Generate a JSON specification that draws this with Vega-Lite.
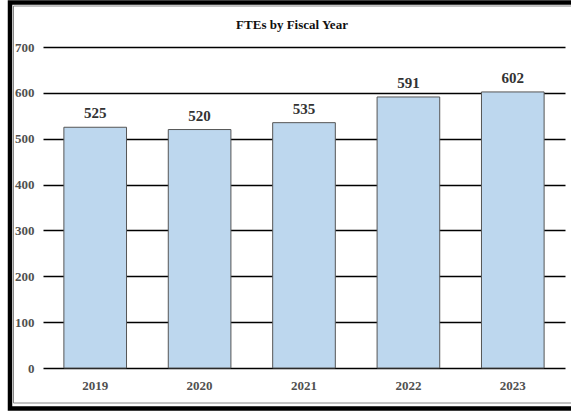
{
  "$schema": "https://vega.github.io/schema/vega-lite/v6.json",
  "width": 522,
  "height": 321,
  "autosize": {"type": "none"},
  "padding": {"left": 43, "top": 47, "right": 6, "bottom": 43},
  "background": "white",
  "title": {
    "text": "FTEs by Fiscal Year",
    "frame": "group",
    "font": "Liberation Serif",
    "fontSize": 13,
    "fontWeight": "bold",
    "color": "#111111",
    "anchor": "middle",
    "baseline": "bottom",
    "offset": 0,
    "dy": 45,
    "dx": -12
  },
  "config": {
    "view": {"stroke": null},
    "axis": {
      "labelFont": "Liberation Serif",
      "labelFontWeight": "bold",
      "labelFontSize": 13,
      "labelColor": "#505050",
      "ticks": false,
      "domain": false,
      "title": null
    }
  },
  "data": {
    "values": [
      {"year": "2019", "fte": 525},
      {"year": "2020", "fte": 520},
      {"year": "2021", "fte": 535},
      {"year": "2022", "fte": 591},
      {"year": "2023", "fte": 602}
    ]
  },
  "layer": [
    {
      "mark": {"type": "bar", "fill": "#BDD7EE", "stroke": "#555555", "strokeWidth": 1},
      "encoding": {
        "x": {
          "field": "year",
          "type": "ordinal",
          "scale": {"paddingInner": 0.4, "paddingOuter": 0.2},
          "axis": {"labelAngle": 0, "labelPadding": 11, "grid": false}
        },
        "y": {
          "field": "fte",
          "type": "quantitative",
          "scale": {"domain": [0, 700]},
          "axis": {
            "values": [0, 100, 200, 300, 400, 500, 600, 700],
            "grid": true,
            "gridColor": "#000000",
            "gridWidth": 1.3,
            "gridOpacity": 1,
            "labelPadding": 9
          }
        }
      }
    },
    {
      "mark": {
        "type": "text",
        "baseline": "bottom",
        "dy": -6,
        "font": "Liberation Serif",
        "fontWeight": "bold",
        "fontSize": 15,
        "color": "#333333"
      },
      "encoding": {
        "x": {"field": "year", "type": "ordinal"},
        "y": {"field": "fte", "type": "quantitative"},
        "text": {"field": "fte", "type": "quantitative"}
      }
    },
    {
      "data": {"values": [{"frame": "outer"}]},
      "mark": {"type": "rect", "fill": null, "stroke": "#000000", "strokeWidth": 4.5, "clip": false},
      "encoding": {
        "x": {"value": -33},
        "x2": {"value": 700},
        "y": {"value": -44.5},
        "y2": {"value": 361.5}
      }
    },
    {
      "data": {"values": [{"frame": "inner"}]},
      "mark": {"type": "rect", "fill": null, "stroke": "#888888", "strokeWidth": 1, "clip": false},
      "encoding": {
        "x": {"value": -29.5},
        "x2": {"value": 700},
        "y": {"value": -41},
        "y2": {"value": 356}
      }
    }
  ]
}
